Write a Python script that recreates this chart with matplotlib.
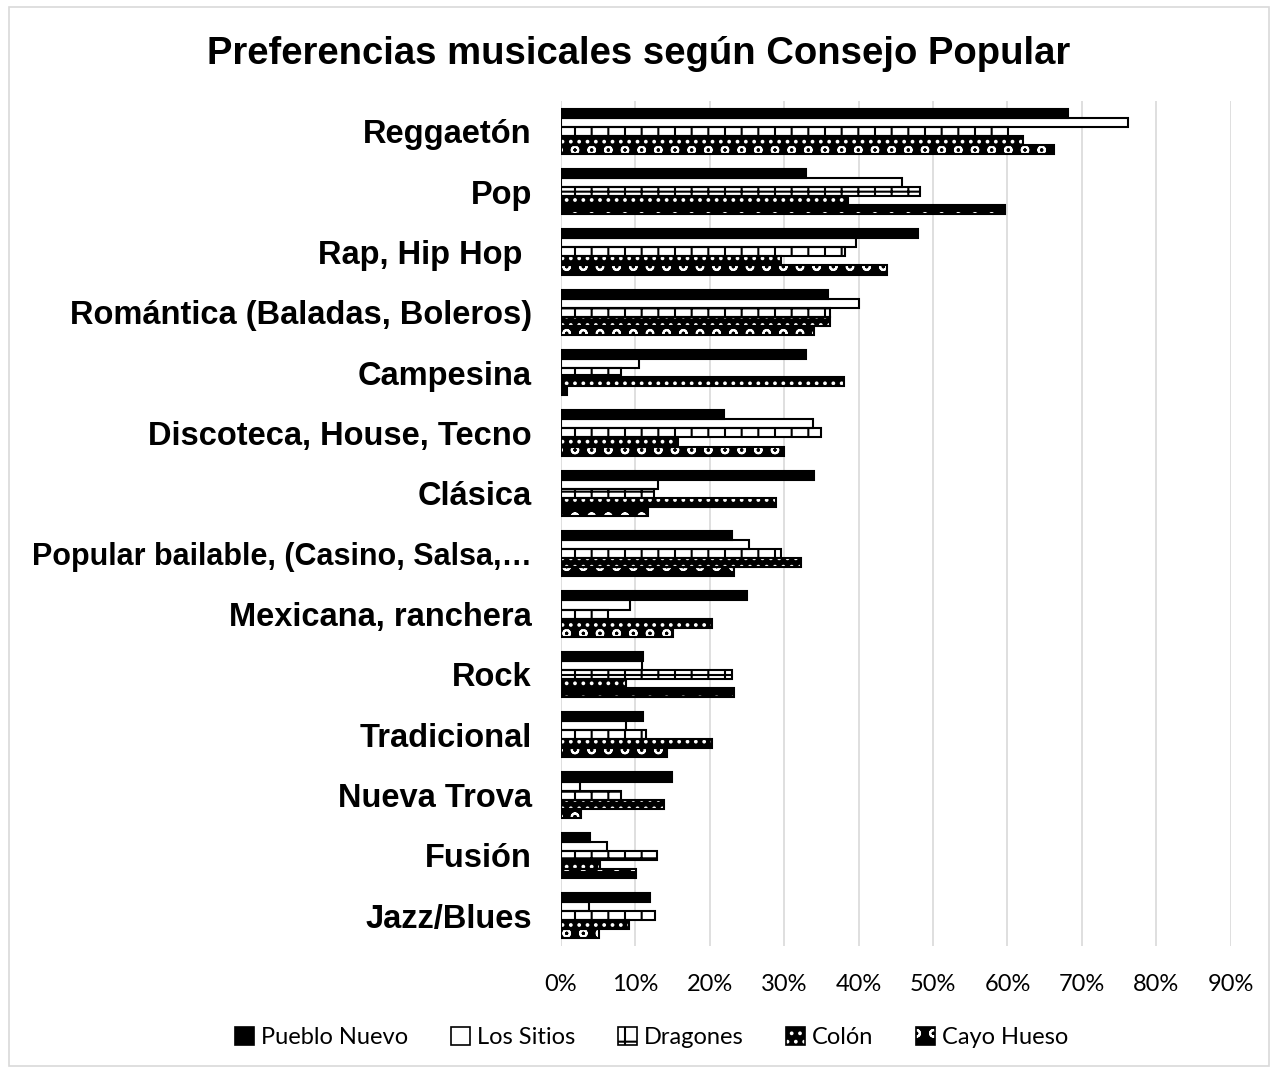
import matplotlib.pyplot as plt
import numpy as np
from matplotlib.patches import Patch, Rectangle
from matplotlib.ticker import PercentFormatter

generos = ["Reggaetón", "Pop", "Rap, Hip Hop ", "Romántica (Baladas, Boleros)",
           "Campesina", "Discoteca, House, Tecno", "Clásica",
           "Popular bailable, (Casino, Salsa,…", "Mexicana, ranchera", "Rock",
           "Tradicional", "Nueva Trova", "Fusión", "Jazz/Blues"]

pueblo_nuevo = [68.1, 32.9, 48.0, 35.9, 32.9, 21.9, 34.0, 23.0, 25.0, 11.0, 11.0, 14.9, 3.9, 11.9]
los_sitios   = [76.2, 45.8, 39.7, 40.0, 10.5, 33.9, 13.0, 25.3, 9.3, 10.9, 8.7, 2.5, 6.2, 3.7]
dragones     = [60.1, 48.3, 38.2, 36.2, 8.0, 35.0, 12.5, 29.5, 6.3, 23.0, 11.4, 8.0, 12.9, 12.6]
colon        = [62.1, 38.6, 29.6, 36.1, 38.0, 15.7, 28.9, 32.2, 20.3, 8.7, 20.3, 13.9, 5.3, 9.2]
cayo_hueso   = [66.2, 59.7, 43.8, 34.0, 0.8, 29.9, 11.7, 23.2, 15.0, 23.2, 14.2, 2.7, 10.1, 5.1]

series = ["Pueblo Nuevo", "Los Sitios", "Dragones", "Colón", "Cayo Hueso"]
valores = [pueblo_nuevo, los_sitios, dragones, colon, cayo_hueso]
# face colour, hatch, hatch colour
estilos = [("black", None, "black"),
           ("white", None, "black"),
           ("white", "+", "black"),
           ("black", "..", "white"),
           ("black", "o", "white")]

plt.rcParams['hatch.linewidth'] = 1.5

fig = plt.figure(figsize=(12.78, 10.71), dpi=100)
ax = fig.add_axes([0.439, 0.1167, 0.524, 0.789])

y = np.arange(len(generos))
h = 0.15
for j, (nombre, vals) in enumerate(zip(series, valores)):
    fc, hatch, hc = estilos[j]
    pos = y + (j - 2) * h
    v = np.array(vals) / 100
    ax.barh(pos, v, height=h, color=fc, edgecolor=hc, hatch=hatch, linewidth=0, zorder=2)
    ax.barh(pos, v, height=h, fill=False, edgecolor="black", linewidth=1.5, zorder=3)

ax.set_ylim(len(generos) - 0.5, -0.5)
ax.set_xlim(0, 0.9)
ax.set_xticks(np.arange(0, 0.91, 0.1))
ax.xaxis.set_major_formatter(PercentFormatter(1.0, decimals=0))
ax.set_yticks(y)
ax.set_yticklabels(generos, fontsize=23.5, fontweight="bold", family="Liberation Sans")
# the long truncated label is set a bit smaller so it stays inside the frame
ax.get_yticklabels()[7].set_fontsize(22)
ax.tick_params(axis="y", length=0, pad=21)
ax.tick_params(axis="x", length=0, pad=20, labelsize=17)
for lab in ax.get_xticklabels():
    lab.set_family("Lato")
ax.grid(axis="x", color="#d9d9d9", linewidth=1.2, zorder=0)
ax.set_axisbelow(True)
for s in ax.spines.values():
    s.set_visible(False)

fig.suptitle("Preferencias musicales según Consejo Popular", y=0.966,
             fontsize=27.5, fontweight="bold", family="Liberation Sans")

handles = []
for fc, hatch, hc in estilos:
    relleno = Patch(facecolor=fc, edgecolor=hc, hatch=hatch, linewidth=0)
    borde = Patch(fill=False, edgecolor="black", linewidth=1.2)
    handles.append((relleno, borde))
fig.legend(handles, series, loc="center", bbox_to_anchor=(0.51, 0.031), ncol=5,
           frameon=False, prop={"family": "Lato", "size": 17},
           handlelength=0.8, handleheight=0.8, handletextpad=0.3, columnspacing=1.8)

fig.add_artist(Rectangle((0.007, 0.005), 0.986, 0.988, transform=fig.transFigure,
                         fill=False, edgecolor="#d9d9d9", linewidth=1.2))

fig.savefig("out.png", dpi=100)
